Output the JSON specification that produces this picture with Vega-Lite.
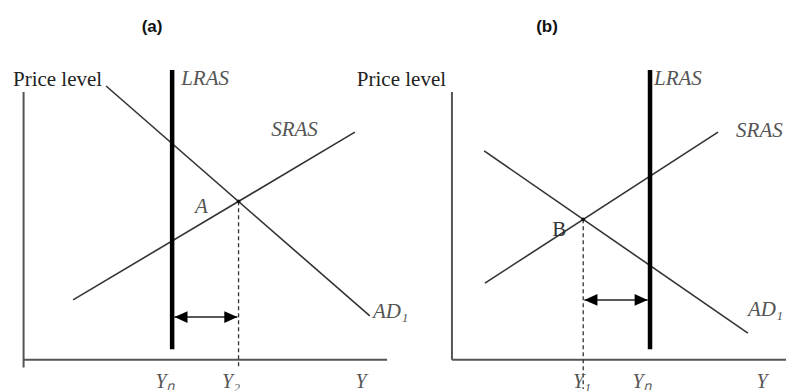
{
  "$schema": "https://vega.github.io/schema/vega-lite/v6.json",
  "autosize": {"type": "pad"},
  "padding": 0,
  "spacing": 0,
  "bounds": "flush",
  "background": "white",
  "config": {"view": {"stroke": null}},
  "datasets": {
    "segs": [
      {"panel": "a", "kind": "axis", "x": 0, "y": -2, "x2": 0, "y2": 68.5},
      {"panel": "a", "kind": "axis", "x": 0, "y": 0, "x2": 92.5, "y2": 0},
      {"panel": "a", "kind": "lras", "x": 37.8, "y": 2.7, "x2": 37.8, "y2": 74.1},
      {"panel": "a", "kind": "curve", "x": 21.0, "y": 70.0, "x2": 88.1, "y2": 11.2},
      {"panel": "a", "kind": "curve", "x": 12.6, "y": 15.3, "x2": 84.3, "y2": 58.2},
      {"panel": "a", "kind": "dashed", "x": 54.7, "y": 40.5, "x2": 54.7, "y2": -1.9},
      {"panel": "b", "kind": "axis", "x": 0, "y": 0, "x2": 0, "y2": 68.5},
      {"panel": "b", "kind": "axis", "x": 0, "y": 0, "x2": 85, "y2": 0},
      {"panel": "b", "kind": "lras", "x": 50.4, "y": 2.7, "x2": 50.4, "y2": 74.1},
      {"panel": "b", "kind": "curve", "x": 8.2, "y": 53.4, "x2": 75.3, "y2": 6.8},
      {"panel": "b", "kind": "curve", "x": 8.4, "y": 19.6, "x2": 67.7, "y2": 58.2},
      {"panel": "b", "kind": "dashed", "x": 33.4, "y": 35.9, "x2": 33.4, "y2": -7.5}
    ],
    "arrows": [
      {"panel": "a", "x": 38.4, "x2": 54.4, "y": 10.9},
      {"panel": "b", "x": 33.7, "x2": 49.8, "y": 15.3}
    ],
    "points": [
      {"panel": "a", "x": 54.7, "y": 40.5},
      {"panel": "b", "x": 33.4, "y": 35.9}
    ],
    "labels": [
      {"panel": "a", "kind": "title", "t": "(a)", "x": 32.7, "y": 85.1},
      {"panel": "a", "kind": "price", "t": "Price level", "x": -2.7, "y": 70.0},
      {"panel": "a", "kind": "ital", "t": "LRAS", "x": 40.1, "y": 70.3},
      {"panel": "a", "kind": "ital", "t": "SRAS", "x": 63.0, "y": 57.2},
      {"panel": "a", "kind": "ital", "t": "A", "x": 43.6, "y": 37.5},
      {"panel": "a", "kind": "ital", "t": "AD₁", "x": 88.9, "y": 10.7},
      {"panel": "a", "kind": "tick", "t": "Yₙ", "x": 36.0, "y": -7.2},
      {"panel": "a", "kind": "tick", "t": "Y₂", "x": 52.8, "y": -7.2},
      {"panel": "a", "kind": "tick", "t": "Y", "x": 85.9, "y": -7.2},
      {"panel": "b", "kind": "title", "t": "(b)", "x": 24.2, "y": 85.1},
      {"panel": "b", "kind": "price", "t": "Price level", "x": -1.5, "y": 70.0},
      {"panel": "b", "kind": "ital", "t": "LRAS", "x": 51.4, "y": 70.3},
      {"panel": "b", "kind": "ital", "t": "SRAS", "x": 72.3, "y": 57.0},
      {"panel": "b", "kind": "plain", "t": "B", "x": 25.5, "y": 31.6},
      {"panel": "b", "kind": "ital", "t": "AD₁", "x": 75.3, "y": 11.2},
      {"panel": "b", "kind": "tick", "t": "Y₁", "x": 33.1, "y": -7.2},
      {"panel": "b", "kind": "tick", "t": "Yₙ", "x": 48.4, "y": -7.2},
      {"panel": "b", "kind": "tick", "t": "Y", "x": 78.9, "y": -7.2}
    ]
  },
  "hconcat": [
    {
      "width": 393,
      "height": 391,
      "encoding": {
        "x": {"field": "x", "type": "quantitative", "scale": {"domain": [-6, 94], "nice": false, "zero": false}, "axis": null},
        "y": {"field": "y", "type": "quantitative", "scale": {"domain": [-8, 92], "nice": false, "zero": false}, "axis": null}
      },
      "layer": [
        {"data": {"name": "segs"}, "transform": [{"filter": "datum.panel === 'a' && datum.kind === 'axis'"}],
         "mark": {"type": "rule", "stroke": "#555", "strokeWidth": 2}, "encoding": {"x2": {"field": "x2"}, "y2": {"field": "y2"}}},
        {"data": {"name": "segs"}, "transform": [{"filter": "datum.panel === 'a' && datum.kind === 'curve'"}],
         "mark": {"type": "rule", "stroke": "#333", "strokeWidth": 1.6}, "encoding": {"x2": {"field": "x2"}, "y2": {"field": "y2"}}},
        {"data": {"name": "segs"}, "transform": [{"filter": "datum.panel === 'a' && datum.kind === 'dashed'"}],
         "mark": {"type": "rule", "stroke": "#333", "strokeWidth": 1.3, "strokeDash": [4, 3]}, "encoding": {"x2": {"field": "x2"}, "y2": {"field": "y2"}}},
        {"data": {"name": "segs"}, "transform": [{"filter": "datum.panel === 'a' && datum.kind === 'lras'"}],
         "mark": {"type": "rule", "stroke": "#000", "strokeWidth": 4.5, "strokeCap": "butt"}, "encoding": {"x2": {"field": "x2"}, "y2": {"field": "y2"}}},
        {"data": {"name": "points"}, "transform": [{"filter": "datum.panel === 'a'"}],
         "mark": {"type": "point", "shape": "circle", "filled": true, "size": 14, "color": "#111", "opacity": 1}},
        {"data": {"name": "arrows"}, "transform": [{"filter": "datum.panel === 'a'"}],
         "mark": {"type": "rule", "stroke": "#222", "strokeWidth": 1.5}, "encoding": {"x2": {"field": "x2"}}},
        {"data": {"name": "arrows"}, "transform": [{"filter": "datum.panel === 'a'"}],
         "mark": {"type": "point", "shape": "M0,0L2,-0.9L2,0.9Z", "filled": true, "size": 170, "color": "#000", "opacity": 1}},
        {"data": {"name": "arrows"}, "transform": [{"filter": "datum.panel === 'a'"}],
         "mark": {"type": "point", "shape": "M0,0L-2,-0.9L-2,0.9Z", "filled": true, "size": 170, "color": "#000", "opacity": 1},
         "encoding": {"x": {"field": "x2", "type": "quantitative", "scale": {"domain": [-6, 94], "nice": false, "zero": false}, "axis": null}}},
        {"data": {"name": "labels"}, "transform": [{"filter": "datum.panel === 'a' && datum.kind === 'title'"}],
         "mark": {"type": "text", "font": "Liberation Sans", "fontWeight": "bold", "fontSize": 17, "align": "center", "baseline": "middle", "color": "#111"},
         "encoding": {"text": {"field": "t"}}},
        {"data": {"name": "labels"}, "transform": [{"filter": "datum.panel === 'a' && datum.kind === 'price'"}],
         "mark": {"type": "text", "font": "Liberation Serif", "fontSize": 21, "align": "left", "baseline": "alphabetic", "color": "#222"},
         "encoding": {"text": {"field": "t"}}},
        {"data": {"name": "labels"}, "transform": [{"filter": "datum.panel === 'a' && datum.kind === 'ital'"}],
         "mark": {"type": "text", "font": "Liberation Serif", "fontStyle": "italic", "fontSize": 21, "align": "left", "baseline": "alphabetic", "color": "#555"},
         "encoding": {"text": {"field": "t"}}},
        {"data": {"name": "labels"}, "transform": [{"filter": "datum.panel === 'a' && datum.kind === 'tick'"}],
         "mark": {"type": "text", "font": "Liberation Serif", "fontStyle": "italic", "fontSize": 20, "align": "center", "baseline": "alphabetic", "color": "#555"},
         "encoding": {"text": {"field": "t"}}}
      ]
    },
    {
      "width": 393,
      "height": 391,
      "encoding": {
        "x": {"field": "x", "type": "quantitative", "scale": {"domain": [-15, 85], "nice": false, "zero": false}, "axis": null},
        "y": {"field": "y", "type": "quantitative", "scale": {"domain": [-8, 92], "nice": false, "zero": false}, "axis": null}
      },
      "layer": [
        {"data": {"name": "segs"}, "transform": [{"filter": "datum.panel === 'b' && datum.kind === 'axis'"}],
         "mark": {"type": "rule", "stroke": "#555", "strokeWidth": 2}, "encoding": {"x2": {"field": "x2"}, "y2": {"field": "y2"}}},
        {"data": {"name": "segs"}, "transform": [{"filter": "datum.panel === 'b' && datum.kind === 'curve'"}],
         "mark": {"type": "rule", "stroke": "#333", "strokeWidth": 1.6}, "encoding": {"x2": {"field": "x2"}, "y2": {"field": "y2"}}},
        {"data": {"name": "segs"}, "transform": [{"filter": "datum.panel === 'b' && datum.kind === 'dashed'"}],
         "mark": {"type": "rule", "stroke": "#333", "strokeWidth": 1.3, "strokeDash": [4, 3]}, "encoding": {"x2": {"field": "x2"}, "y2": {"field": "y2"}}},
        {"data": {"name": "segs"}, "transform": [{"filter": "datum.panel === 'b' && datum.kind === 'lras'"}],
         "mark": {"type": "rule", "stroke": "#000", "strokeWidth": 4.5, "strokeCap": "butt"}, "encoding": {"x2": {"field": "x2"}, "y2": {"field": "y2"}}},
        {"data": {"name": "points"}, "transform": [{"filter": "datum.panel === 'b'"}],
         "mark": {"type": "point", "shape": "circle", "filled": true, "size": 14, "color": "#111", "opacity": 1}},
        {"data": {"name": "arrows"}, "transform": [{"filter": "datum.panel === 'b'"}],
         "mark": {"type": "rule", "stroke": "#222", "strokeWidth": 1.5}, "encoding": {"x2": {"field": "x2"}}},
        {"data": {"name": "arrows"}, "transform": [{"filter": "datum.panel === 'b'"}],
         "mark": {"type": "point", "shape": "M0,0L2,-0.9L2,0.9Z", "filled": true, "size": 170, "color": "#000", "opacity": 1}},
        {"data": {"name": "arrows"}, "transform": [{"filter": "datum.panel === 'b'"}],
         "mark": {"type": "point", "shape": "M0,0L-2,-0.9L-2,0.9Z", "filled": true, "size": 170, "color": "#000", "opacity": 1},
         "encoding": {"x": {"field": "x2", "type": "quantitative", "scale": {"domain": [-15, 85], "nice": false, "zero": false}, "axis": null}}},
        {"data": {"name": "labels"}, "transform": [{"filter": "datum.panel === 'b' && datum.kind === 'title'"}],
         "mark": {"type": "text", "font": "Liberation Sans", "fontWeight": "bold", "fontSize": 17, "align": "center", "baseline": "middle", "color": "#111"},
         "encoding": {"text": {"field": "t"}}},
        {"data": {"name": "labels"}, "transform": [{"filter": "datum.panel === 'b' && datum.kind === 'price'"}],
         "mark": {"type": "text", "font": "Liberation Serif", "fontSize": 21, "align": "right", "baseline": "alphabetic", "color": "#222"},
         "encoding": {"text": {"field": "t"}}},
        {"data": {"name": "labels"}, "transform": [{"filter": "datum.panel === 'b' && datum.kind === 'ital'"}],
         "mark": {"type": "text", "font": "Liberation Serif", "fontStyle": "italic", "fontSize": 21, "align": "left", "baseline": "alphabetic", "color": "#555"},
         "encoding": {"text": {"field": "t"}}},
        {"data": {"name": "labels"}, "transform": [{"filter": "datum.panel === 'b' && datum.kind === 'plain'"}],
         "mark": {"type": "text", "font": "Liberation Serif", "fontSize": 21, "align": "left", "baseline": "alphabetic", "color": "#333"},
         "encoding": {"text": {"field": "t"}}},
        {"data": {"name": "labels"}, "transform": [{"filter": "datum.panel === 'b' && datum.kind === 'tick'"}],
         "mark": {"type": "text", "font": "Liberation Serif", "fontStyle": "italic", "fontSize": 20, "align": "center", "baseline": "alphabetic", "color": "#555"},
         "encoding": {"text": {"field": "t"}}}
      ]
    }
  ]
}
